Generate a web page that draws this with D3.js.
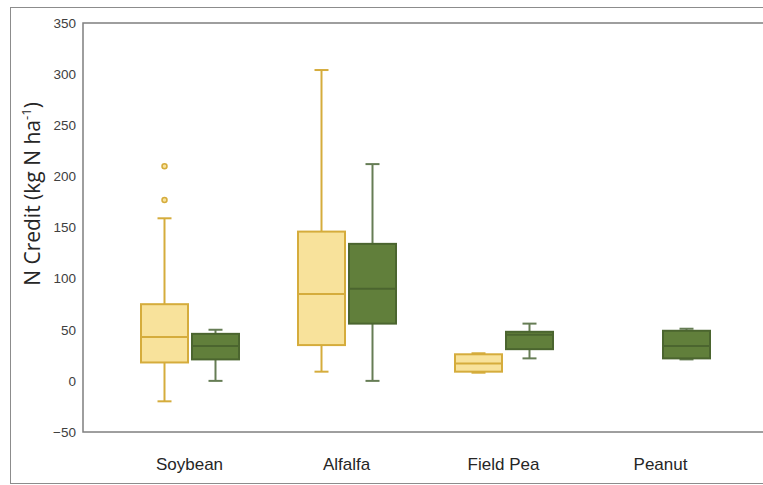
<!DOCTYPE html>
<html>
<head>
<meta charset="utf-8">
<script src="https://cdn.jsdelivr.net/npm/d3@7"></script>
<style>
	body { margin: 0; background: #fff; }
	svg { display: block; font-family: 'Open Sans', 'Liberation Sans', sans-serif; }
</style>
</head>
<body>
<div id="chart"></div>
<script>
const categories = ['Soybean', 'Alfalfa', 'Field Pea', 'Peanut']
const yTicks = [-50, 0, 50, 100, 150, 200, 250, 300, 350]

// [min, q1, median, q3, max] per category, null = no box
const yellowStats = [
	[-20, 18, 43, 75, 159],
	[9, 35, 85, 146, 304],
	[8, 9, 17, 26, 27],
	null,
]
const greenStats = [
	[0, 21, 34, 46, 50],
	[0, 56, 90, 134, 212],
	[22, 31, 45, 48, 56],
	[21, 22, 34, 49, 51],
]
const yellowOutliers = [[210, 177], [], [], []]

const width = 763
const height = 485
const margin = { top: 23, left: 83, bottom: 53 }

const svg = d3.select('#chart').append('svg')
	.attr('width', width)
	.attr('height', height)

// outer chart frame
svg.append('rect')
	.attr('x', 10.5).attr('y', 7.5)
	.attr('width', 800).attr('height', 476)
	.attr('fill', 'none')
	.attr('stroke', '#8c8c8c')
	.attr('stroke-width', 1)

const y = d3.scaleLinear()
	.domain([-50, 350])
	.range([432, margin.top])

const x = d3.scaleBand()
	.domain(categories)
	.range([111, 111 + 157 * 4])

// plot area frame
svg.append('rect')
	.attr('x', margin.left).attr('y', margin.top)
	.attr('width', 800).attr('height', y(-50) - margin.top)
	.attr('fill', 'none')
	.attr('stroke', '#7f7f7f')
	.attr('stroke-width', 1.5)

// y axis labels
const yAxis = svg.append('g')
	.attr('transform', `translate(${margin.left},0)`)
	.call(d3.axisLeft(y).tickValues(yTicks).tickSize(0).tickPadding(7))
yAxis.select('.domain').remove()
yAxis.selectAll('text')
	.attr('fill', '#404040')
	.style('font-size', '13.5px')

// x axis labels
const xAxis = svg.append('g')
	.attr('transform', `translate(0,${y(-50)})`)
	.call(d3.axisBottom(x).tickSize(0).tickPadding(26))
xAxis.select('.domain').remove()
xAxis.selectAll('text')
	.attr('fill', '#262626')
	.style('font-size', '17px')

// y title
const title = svg.append('text')
	.attr('transform', 'translate(40,194) rotate(-90)')
	.attr('text-anchor', 'middle')
	.attr('fill', '#262626')
	.style('font-size', '21px')
title.append('tspan').text('N Credit (kg N ha')
title.append('tspan').attr('baseline-shift', 'super').style('font-size', '13px').text('-1')
title.append('tspan').text(')')

const boxW = 47
const capW = 14
const series = [
	{ stats: yellowStats, outliers: yellowOutliers, offset: -25, fill: '#f8e29b', stroke: '#d5ac3c', whisker: '#d5ac3c' },
	{ stats: greenStats, outliers: [[], [], [], []], offset: 26, fill: '#617f3b', stroke: '#4b652f', whisker: '#667d55' },
]

series.forEach(s => {
	const g = svg.append('g')
	categories.forEach((c, i) => {
		const st = s.stats[i]
		if (!st) return
		const cx = x(c) + x.bandwidth() / 2 + s.offset
		const [mn, q1, md, q3, mx] = st
		// whiskers
		g.append('line')
			.attr('x1', cx).attr('x2', cx).attr('y1', y(q3)).attr('y2', y(mx))
			.attr('stroke', s.whisker).attr('stroke-width', 2)
		g.append('line')
			.attr('x1', cx).attr('x2', cx).attr('y1', y(q1)).attr('y2', y(mn))
			.attr('stroke', s.whisker).attr('stroke-width', 2)
		;[mn, mx].forEach(v => {
			g.append('line')
				.attr('x1', cx - capW / 2).attr('x2', cx + capW / 2)
				.attr('y1', y(v)).attr('y2', y(v))
				.attr('stroke', s.whisker).attr('stroke-width', 2)
		})
		// box
		g.append('rect')
			.attr('x', cx - boxW / 2).attr('y', y(q3))
			.attr('width', boxW).attr('height', y(q1) - y(q3))
			.attr('fill', s.fill)
			.attr('stroke', s.stroke).attr('stroke-width', 2)
		g.append('line')
			.attr('x1', cx - boxW / 2).attr('x2', cx + boxW / 2)
			.attr('y1', y(md)).attr('y2', y(md))
			.attr('stroke', s.stroke).attr('stroke-width', 2)
		// outliers
		s.outliers[i].forEach(v => {
			g.append('circle')
				.attr('cx', cx).attr('cy', y(v)).attr('r', 2.5)
				.attr('fill', '#f8e29b')
				.attr('stroke', s.stroke).attr('stroke-width', 1.5)
		})
	})
})
</script>
</body>
</html>
